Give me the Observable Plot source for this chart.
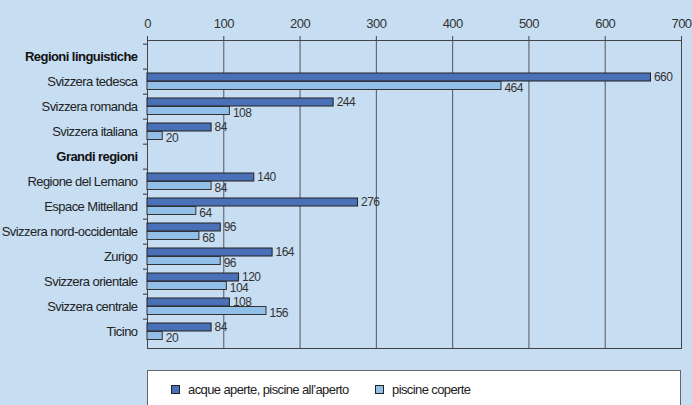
<!DOCTYPE html>
<html>
<head>
<meta charset="utf-8">
<script src="https://cdn.jsdelivr.net/npm/d3@7"></script>
<script src="https://cdn.jsdelivr.net/npm/@observablehq/plot@0.6"></script>
<style>
  html, body { margin: 0; padding: 0; background: #c6ddf2; overflow: hidden; }
  body { width: 692px; height: 405px; position: relative; font-family: "Liberation Sans", Arial, sans-serif; }
  #chart { position: absolute; left: 0; top: 0; }
  #chart svg text { letter-spacing: -0.55px; }
  #legend { position: absolute; left: 147px; top: 370px; width: 532px; height: 40px; background: #fff; border: 1px solid #666; }
  .item { position: absolute; top: 11px; font-size: 13px; letter-spacing: -0.6px; color: #222; display: flex; align-items: center; white-space: nowrap; }
  .sw { width: 7px; height: 7px; border: 1px solid #222; margin-right: 8px; }
</style>
</head>
<body>
<div id="chart"></div>
<div id="legend"></div>
<script>
const categories = ["Regioni linguistiche","Svizzera tedesca","Svizzera romanda","Svizzera italiana","Grandi regioni","Regione del Lemano","Espace Mittelland","Svizzera nord-occidentale","Zurigo","Svizzera orientale","Svizzera centrale","Ticino"];
const headers = ["Regioni linguistiche","Grandi regioni"];
const regions = ["Svizzera tedesca","Svizzera romanda","Svizzera italiana","Regione del Lemano","Espace Mittelland","Svizzera nord-occidentale","Zurigo","Svizzera orientale","Svizzera centrale","Ticino"];
const outdoor = [660,244,84,140,276,96,164,120,108,84];
const indoor = [464,108,20,84,64,68,96,104,156,20];
const xTicks = [0,100,200,300,400,500,600,700];
const seriesNames = ["acque aperte, piscine all’aperto","piscine coperte"];
const seriesColors = ["#4a70b7","#92bfe8"];

const dOut = regions.map((r,i) => ({region: r, value: outdoor[i]}));
const dIn = regions.map((r,i) => ({region: r, value: indoor[i]}));
const normalCats = categories.filter(c => !headers.includes(c));
const font = "'Liberation Sans', Arial, sans-serif";
const step = (348 - 40) / categories.length;

const chart = Plot.plot({
  width: 692,
  height: 362,
  marginLeft: 147,
  marginRight: 11,
  marginTop: 40,
  marginBottom: 14,
  style: {background: "transparent", fontFamily: font, color: "#222"},
  x: {domain: [0,700], axis: null, label: null},
  y: {domain: categories, padding: 0, axis: null, label: null},
  marks: [
    Plot.ruleX(xTicks, {x: d => d, stroke: "#555", strokeWidth: 1}),
    Plot.axisX({anchor: "top", ticks: xTicks, tickSize: 5, tickPadding: 8, fontSize: 13, stroke: "#444", fill: "#333", label: null, tickFormat: d => String(d)}),
    Plot.frame({stroke: "#444", strokeWidth: 1}),
    Plot.axisY({ticks: categories, tickSize: 4, dy: -step/2, tickFormat: () => "", stroke: "#333", label: null}),
    Plot.axisY({ticks: normalCats, tickSize: 0, tickPadding: 10, fontSize: 13, fill: "#222", label: null}),
    Plot.axisY({ticks: headers, tickSize: 0, tickPadding: 10, fontSize: 13, fontWeight: "bold", fill: "#111", label: null}),
    Plot.barX(dOut, {x: "value", y: "region", fill: seriesColors[0], stroke: "#222", strokeWidth: 1, insetTop: 4, insetBottom: 13}),
    Plot.barX(dIn, {x: "value", y: "region", fill: seriesColors[1], stroke: "#333", strokeWidth: 1, insetTop: 12.5, insetBottom: 4.5}),
    Plot.text(dOut, {x: "value", y: "region", text: d => String(d.value), dx: 3, dy: -5, textAnchor: "start", fontSize: 12, fill: "#333"}),
    Plot.text(dIn, {x: "value", y: "region", text: d => String(d.value), dx: 3, dy: 6.5, textAnchor: "start", fontSize: 12, fill: "#333"})
  ]
});
document.getElementById("chart").appendChild(chart);

const legend = document.getElementById("legend");
const positions = [23, 227];
seriesNames.forEach((name, i) => {
  const it = document.createElement("div");
  it.className = "item";
  it.style.left = positions[i] + "px";
  const sw = document.createElement("span");
  sw.className = "sw";
  sw.style.background = seriesColors[i];
  const tx = document.createElement("span");
  tx.textContent = name;
  it.appendChild(sw); it.appendChild(tx);
  legend.appendChild(it);
});
</script>
</body>
</html>
